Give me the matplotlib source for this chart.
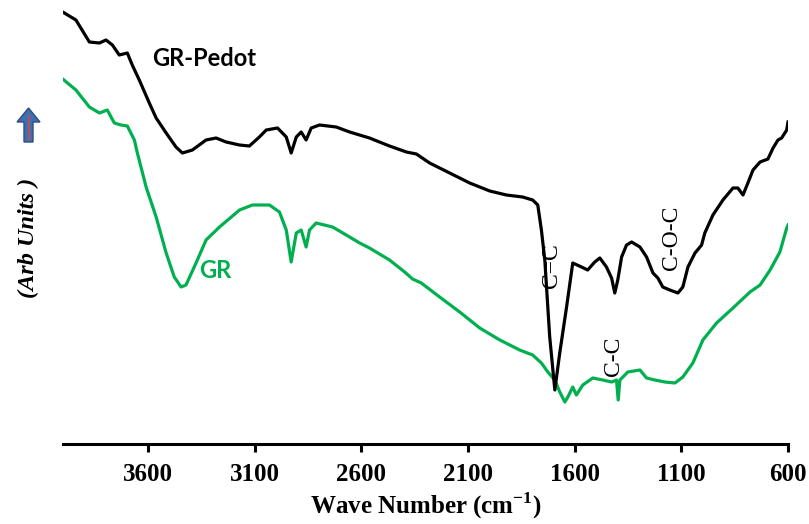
import matplotlib.pyplot as plt
from matplotlib.patches import Polygon
from matplotlib.lines import Line2D


# FTIR spectra (wave number in cm-1, intensity in arbitrary units)

wn_pedot = [
    4000, 3938, 3875, 3828, 3797, 3767, 3735, 3697, 3674, 3641,
    3594, 3562, 3515, 3469, 3439, 3392, 3328, 3281, 3234, 3171,
    3125, 3078, 3046, 2993, 2952, 2929, 2905, 2882, 2859, 2835,
    2796, 2718, 2655, 2562, 2468, 2389, 2342, 2280, 2186, 2092,
    1998, 1920, 1844, 1797, 1773, 1756, 1740, 1726, 1717, 1693,
    1670, 1638, 1609, 1568, 1539, 1506, 1482, 1451, 1427, 1412,
    1398, 1380, 1357, 1333, 1294, 1263, 1233, 1210, 1187, 1154,
    1116, 1093, 1069, 1036, 1005, 990, 952, 905, 858, 835,
    811, 788, 764, 731, 694, 670, 647, 630, 606, 600
]

int_pedot = [
    432, 424, 402, 401, 404, 399, 389, 391, 379, 364,
    341, 326, 311, 297, 291, 294, 304, 306, 302, 299,
    298, 307, 314, 316, 307, 291, 307, 312, 304, 316,
    319, 317, 312, 306, 298, 292, 290, 281, 271, 261,
    253, 249, 247, 244, 239, 214, 184, 137, 107, 54,
    91, 137, 181, 177, 174, 182, 186, 177, 166, 151,
    164, 187, 199, 202, 197, 187, 171, 166, 157, 154,
    151, 157, 177, 191, 199, 211, 229, 244, 256, 256,
    249, 261, 274, 282, 285, 296, 304, 306, 314, 322
]

wn_gr = [
    4000, 3938, 3875, 3828, 3791, 3758, 3727, 3697, 3664, 3650,
    3609, 3562, 3515, 3477, 3445, 3422, 3375, 3328, 3265, 3171,
    3111, 3031, 2984, 2952, 2929, 2905, 2882, 2859, 2843, 2812,
    2735, 2655, 2608, 2562, 2468, 2397, 2360, 2319, 2233, 2139,
    2045, 1951, 1858, 1797, 1756, 1726, 1693, 1670, 1646, 1632,
    1609, 1592, 1562, 1515, 1468, 1427, 1404, 1396, 1388, 1351,
    1294, 1263, 1224, 1177, 1130, 1093, 1046, 999, 935, 858,
    778, 731, 684, 638, 606, 600
]

int_gr = [
    365, 354, 337, 331, 334, 321, 319, 318, 304, 291,
    257, 227, 191, 167, 157, 159, 181, 204, 217, 234,
    239, 239, 232, 214, 182, 211, 214, 197, 214, 221,
    217, 207, 201, 196, 184, 172, 165, 161, 147, 132,
    116, 104, 94, 89, 81, 72, 64, 52, 42, 47,
    57, 49, 59, 66, 64, 62, 64, 44, 64, 72,
    74, 66, 64, 62, 61, 67, 81, 104, 121, 136,
    152, 159, 174, 192, 216, 219
]

ticks = [3600, 3100, 2600, 2100, 1600, 1100, 600]

green = "#00b050"
W, H = 809, 524


def fx(px):
    return px / W


def fy(py):
    return 1 - py / H


plt.rcParams["mathtext.fontset"] = "custom"
plt.rcParams["mathtext.rm"] = "Liberation Serif:bold"
plt.rcParams["mathtext.bf"] = "Liberation Serif:bold"

fig = plt.figure(figsize=(W / 100, H / 100), dpi=100)
ax = fig.add_axes([fx(62.7), fy(444), fx(788) - fx(62.7), fy(0) - fy(444)])

ax.plot(wn_gr, int_gr, color=green, linewidth=2.3, solid_joinstyle="round")
ax.plot(wn_pedot, int_pedot, color="black", linewidth=2.3, solid_joinstyle="round")

ax.set_xlim(4000, 600)
ax.set_ylim(0, 444)

for side in ["left", "right", "top"]:
    ax.spines[side].set_visible(False)
ax.spines["bottom"].set_linewidth(2.2)

ax.set_yticks([])
ax.set_xticks(ticks)
ax.set_xticklabels([str(t) for t in ticks], fontfamily="Liberation Serif",
                   fontweight="bold", fontsize=18)
ax.tick_params(axis="x", direction="out", length=6, width=2.2, pad=8)

ax.set_xlabel("Wave Number (cm$^{-1}$)", fontfamily="Liberation Serif",
              fontweight="bold", fontsize=18, labelpad=3)

# y label and arrow
fig.text(fx(28.5), fy(238), "(Arb Units )", rotation=90, ha="center", va="center",
         fontfamily="Liberation Serif", fontweight="bold", fontstyle="italic",
         fontsize=17.5)

arrow_px = [(24, 142), (33, 142), (33, 122), (40, 122), (28.5, 108),
            (17, 122), (24, 122)]
fig.patches.append(Polygon([(fx(x), fy(y)) for x, y in arrow_px], closed=True,
                           transform=fig.transFigure, facecolor="#3f6fb2",
                           edgecolor="#2d4f80", linewidth=1.0))
fig.lines.append(Line2D([fx(28.5), fx(28.5)], [fy(139), fy(116)],
                        transform=fig.transFigure, color="#c0504d", linewidth=1.3))

# curve labels
ax.text(3580, 386, "GR-Pedot", fontfamily="Lato", fontweight="bold",
        fontsize=17, ha="left", va="center")
ax.text(3359, 174, "GR", fontfamily="Lato", fontweight="bold",
        fontsize=17, color=green, ha="left", va="center")

# band labels
ax.text(1708, 178, "C=C", rotation=90, fontfamily="Liberation Serif",
        fontsize=17, ha="center", va="center")
ax.text(1416, 88, "C-C", rotation=90, fontfamily="Liberation Serif",
        fontsize=17, ha="center", va="center")
ax.text(1144, 206, "C-O-C", rotation=90, fontfamily="Liberation Serif",
        fontsize=17, ha="center", va="center")

fig.savefig("out.png", dpi=100)
